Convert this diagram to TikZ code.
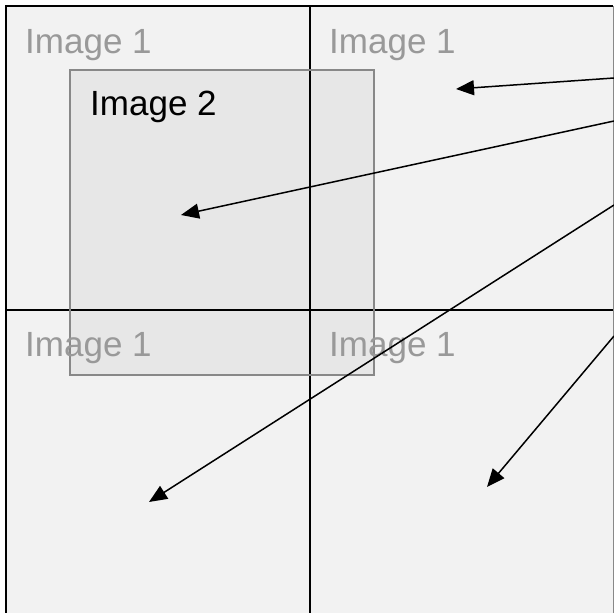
\documentclass[tikz,border=0pt]{standalone}
\usepackage{fontspec}
\setmainfont{Liberation Sans}
\usetikzlibrary{arrows.meta}
\definecolor{panel}{HTML}{F2F2F2}
\definecolor{lbl}{HTML}{999999}
\definecolor{rim}{HTML}{888888}
\begin{document}
\begin{tikzpicture}[x=1pt,y=-1pt,
  grid/.style={line width=1.8pt,black},
  lbl1/.style={anchor=base west,inner sep=0pt,text=lbl,font=\fontsize{35}{40}\selectfont},
  lbl2/.style={anchor=base west,inner sep=0pt,text=black,font=\fontsize{35}{40}\selectfont},
  arr/.style={line width=1.5pt,-{Triangle[length=18pt,width=15pt]}}]
\useasboundingbox (0,0) rectangle (614,613);
\fill[white] (0,0) rectangle (614,613);
\fill[panel] (6,6) rectangle (614,613);
% grid lines
\draw[grid] (6,613) -- (6,6) -- (613,6);
\draw[rim,line width=1pt] (613,6) -- (613,613);
\draw[grid] (310,6) -- (310,613);
\draw[grid] (6,310) -- (613,310);
% image 2 rectangle
\fill[black,opacity=0.045] (70,70) rectangle (374,375);
\draw[rim,line width=1.3pt] (70,70) rectangle (374,375);
% labels
\node[lbl1] (t1) at (25,53) {Image 1};
\node[lbl1] (t2) at (329,53) {Image 1};
\node[lbl1] (t3) at (25,356) {Image 1};
\node[lbl1] (t4) at (329,356) {Image 1};
\node[lbl2] (t5) at (90,115) {Image 2};
% arrows
\coordinate (s1) at (614,78);
\coordinate (s2) at (614,121);
\coordinate (s3) at (614,205);
\coordinate (s4) at (614,336);
\coordinate (e1) at (456,89);
\coordinate (e2) at (181,215);
\coordinate (e3) at (149,502);
\coordinate (e4) at (487,487);
\draw[arr] (s1) -- (e1);
\draw[arr] (s2) -- (e2);
\draw[arr] (s3) -- (e3);
\draw[arr] (s4) -- (e4);
\end{tikzpicture}
\end{document}
